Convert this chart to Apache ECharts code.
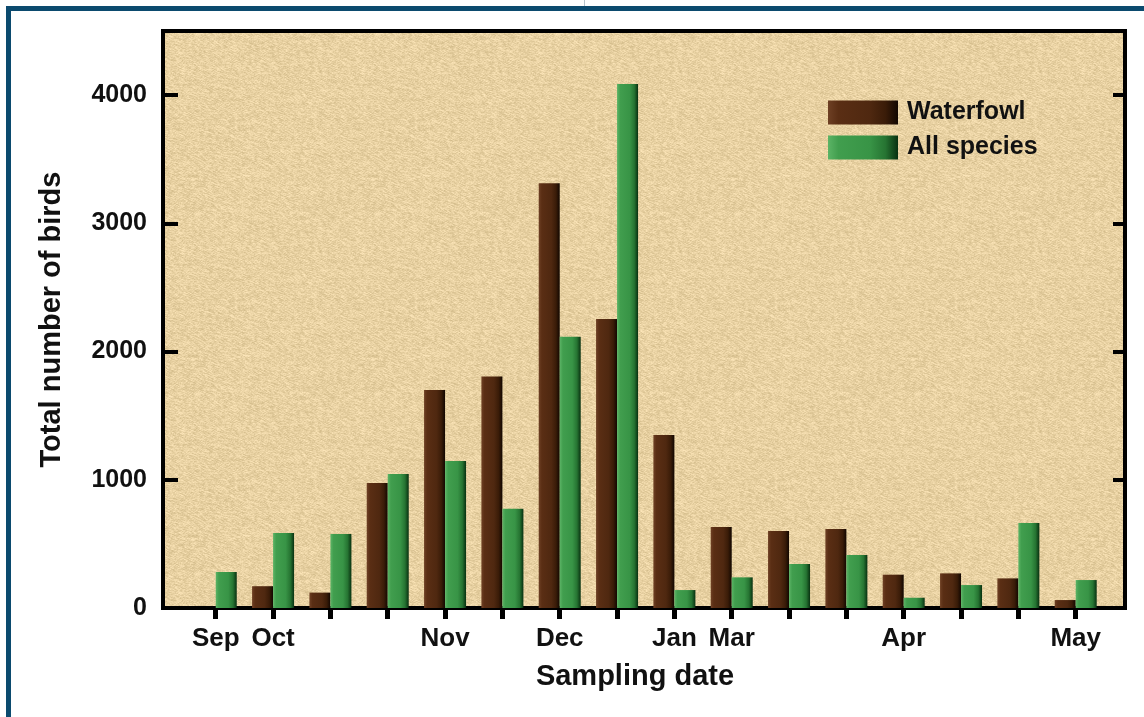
<!DOCTYPE html>
<html>
<head>
<meta charset="utf-8">
<script src="https://cdn.jsdelivr.net/npm/echarts@6/dist/echarts.min.js"></script>
<style>
html,body{margin:0;padding:0;background:#fff;}
#chart{width:1144px;height:717px;}
</style>
</head>
<body>
<div id="chart"></div>
<script>
// ---- data ----
const tickLabels = ['Sep','Oct','','','Nov','','Dec','','Jan','Mar','','','Apr','','','May'];
const waterfowl  = [0, 170, 120, 975, 1700, 1805, 3312, 2253, 1349, 632, 600, 616, 260, 270, 231, 62];
const allSpecies = [281, 585, 577, 1045, 1146, 774, 2115, 4086, 140, 239, 343, 413, 80, 179, 663, 218];
const seriesNames = ['Waterfowl', 'All species'];
const yTicks = [0, 1000, 2000, 3000, 4000];

// ---- paper texture (deterministic) ----
function makeTexture(){
  const W = 180, H = 180;
  const c = document.createElement('canvas'); c.width = W; c.height = H;
  const ctx = c.getContext('2d');
  const img = ctx.createImageData(W, H);
  function hash(x, y){
    let h = (x * 374761393 + y * 668265263) | 0;
    h = (h ^ (h >>> 13)) * 1274126177 | 0;
    h = h ^ (h >>> 16);
    return (h >>> 0) / 4294967295;
  }
  for (let y = 0; y < H; y++){
    for (let x = 0; x < W; x++){
      const n = (hash(x, y) * 0.5 + hash((x + 1) % W, y) * 0.3 + hash((x + 2) % W, (y + 1) % H) * 0.2) - 0.5;
      const d = n * 46;
      const i = (y * W + x) * 4;
      img.data[i]   = Math.max(0, Math.min(255, 232 + d));
      img.data[i+1] = Math.max(0, Math.min(255, 209 + d));
      img.data[i+2] = Math.max(0, Math.min(255, 162 + d * 1.1));
      img.data[i+3] = 255;
    }
  }
  ctx.putImageData(img, 0, 0);
  return c;
}

const brownGrad = new echarts.graphic.LinearGradient(0, 0, 1, 0, [
  {offset: 0, color: '#6e4024'},
  {offset: 0.15, color: '#5a2e14'},
  {offset: 0.6, color: '#4f2810'},
  {offset: 0.82, color: '#3a1c08'},
  {offset: 1, color: '#120701'}
]);
const greenGrad = new echarts.graphic.LinearGradient(0, 0, 1, 0, [
  {offset: 0, color: '#5cb466'},
  {offset: 0.15, color: '#419e4e'},
  {offset: 0.6, color: '#389446'},
  {offset: 0.82, color: '#267432'},
  {offset: 1, color: '#083010'}
]);

const FONT = 'Liberation Sans';
const chart = echarts.init(document.getElementById('chart'), null, {renderer: 'canvas'});

const xIdx = tickLabels.map((_, i) => i);

chart.setOption({
  backgroundColor: '#ffffff',
  animation: false,
  graphic: [
    {type: 'rect', shape: {x: 6, y: 6, width: 1138, height: 5}, style: {fill: '#0b4a6e'}, z: 100},
    {type: 'rect', shape: {x: 6, y: 6, width: 5, height: 711}, style: {fill: '#0b4a6e'}, z: 100},
    {type: 'rect', shape: {x: 584, y: 0, width: 1, height: 6}, style: {fill: '#b8c4cc'}, z: 100}
  ],
  grid: {
    left: 163, right: 19, top: 31, bottom: 109,
    show: true,
    backgroundColor: {image: makeTexture(), repeat: 'repeat'},
    borderColor: '#000', borderWidth: 4
  },
  legend: {
    orient: 'vertical',
    left: 823, top: 95,
    itemWidth: 70, itemHeight: 24, itemGap: 10,
    icon: 'rect',
    data: seriesNames,
    textStyle: {fontFamily: FONT, fontWeight: 'bold', fontSize: 25, color: '#111', padding: [0, 0, 0, 4]}
  },
  xAxis: {
    type: 'value',
    min: -0.92, max: 15.86,
    name: 'Sampling date',
    nameLocation: 'middle',
    nameGap: 54,
    nameTextStyle: {fontFamily: FONT, fontWeight: 'bold', fontSize: 29, color: '#111', padding: [0, 18, 0, 0]},
    splitLine: {show: false},
    axisLine: {show: true, onZero: false, lineStyle: {color: '#000', width: 4}},
    axisTick: {show: true, inside: false, length: 11, customValues: xIdx, lineStyle: {color: '#000', width: 5}},
    axisLabel: {
      show: true, margin: 18, customValues: xIdx,
      fontFamily: FONT, fontWeight: 'bold', fontSize: 26, color: '#111',
      formatter: v => tickLabels[Math.round(v)] || ''
    }
  },
  yAxis: [{
    type: 'value',
    min: 0, max: 4500,
    position: 'left',
    name: 'Total number of birds',
    nameLocation: 'middle',
    nameGap: 97,
    nameTextStyle: {fontFamily: FONT, fontWeight: 'bold', fontSize: 29, color: '#111'},
    splitLine: {show: false},
    axisLine: {show: true, onZero: false, lineStyle: {color: '#000', width: 4}},
    axisTick: {show: true, inside: true, length: 15, customValues: yTicks, lineStyle: {color: '#000', width: 4}},
    axisLabel: {show: true, margin: 16, customValues: yTicks, fontFamily: FONT, fontWeight: 'bold', fontSize: 25, color: '#111',
      formatter: v => String(v)}
  }, {
    type: 'value',
    min: 0, max: 4500,
    position: 'right',
    splitLine: {show: false},
    axisLine: {show: true, onZero: false, lineStyle: {color: '#000', width: 4}},
    axisTick: {show: true, inside: true, length: 12, customValues: yTicks, lineStyle: {color: '#000', width: 4}},
    axisLabel: {show: false}
  }],
  series: [{
    name: seriesNames[0],
    type: 'bar',
    barWidth: 21,
    barGap: '0%',
    itemStyle: {color: brownGrad},
    data: waterfowl.map((v, i) => [i, v])
  }, {
    name: seriesNames[1],
    type: 'bar',
    barWidth: 21,
    barGap: '0%',
    itemStyle: {color: greenGrad},
    data: allSpecies.map((v, i) => [i, v])
  }]
});
</script>
</body>
</html>
